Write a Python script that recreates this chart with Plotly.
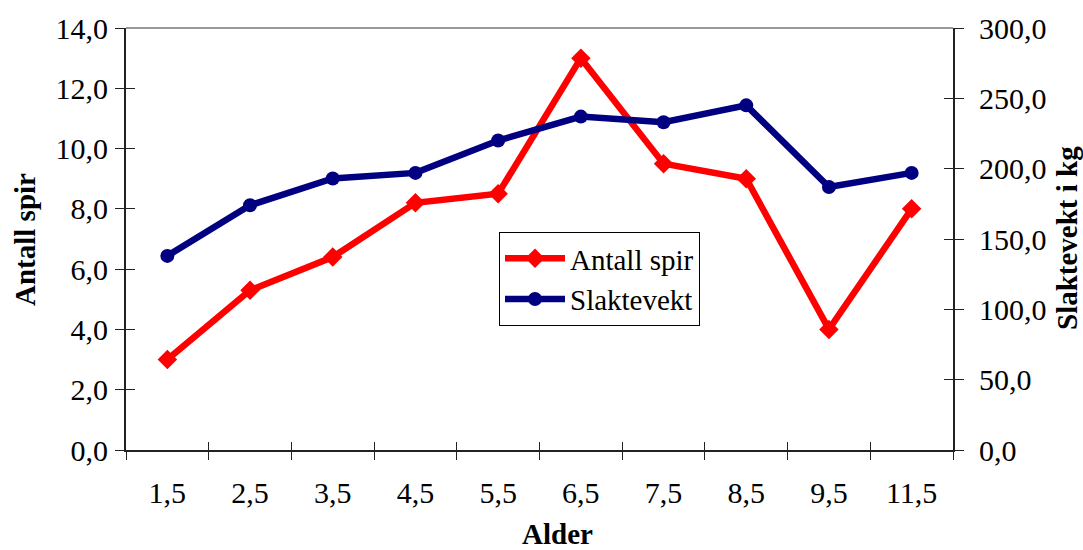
import plotly.graph_objects as go

categories = ["1,5", "2,5", "3,5", "4,5", "5,5", "6,5", "7,5", "8,5", "9,5", "11,5"]
antall_spir = [3.0, 5.3, 6.4, 8.2, 8.5, 13.0, 9.5, 9.0, 4.0, 8.0]
slaktevekt = [138, 174, 193, 197, 220, 237, 233, 245, 187, 197]

left_ticks = [0, 2, 4, 6, 8, 10, 12, 14]
right_ticks = [0, 50, 100, 150, 200, 250, 300]

FONT = "Liberation Serif"
L, R, T, B = 126, 130, 28, 100
W, H = 1083, 550
PW, PH = W - L - R, H - T - B


def px_x(px):
    return (px - L) / PW


def px_y(py):
    return (H - B - py) / PH


fig = go.Figure()

fig.add_trace(go.Scatter(
    x=categories, y=antall_spir, name="Antall spir", mode="lines+markers",
    line=dict(color="#FF0000", width=6.5),
    marker=dict(symbol="diamond", size=15, color="#FF0000"),
    xaxis="x", yaxis="y",
))
fig.add_trace(go.Scatter(
    x=categories, y=slaktevekt, name="Slaktevekt", mode="lines+markers",
    line=dict(color="#000080", width=6.5),
    marker=dict(symbol="circle", size=14, color="#000080"),
    xaxis="x", yaxis="y2",
))
# invisible helper traces so the inner-tick overlay axes exist
fig.add_trace(go.Scatter(x=categories, y=antall_spir, mode="markers",
                         marker=dict(opacity=0), showlegend=False, hoverinfo="skip",
                         xaxis="x3", yaxis="y3"))
fig.add_trace(go.Scatter(x=categories, y=slaktevekt, mode="markers",
                         marker=dict(opacity=0), showlegend=False, hoverinfo="skip",
                         xaxis="x3", yaxis="y4"))

tickfont = dict(family=FONT, size=30, color="black")
axcol = "#222222"

fig.update_layout(
    width=W, height=H,
    margin=dict(l=L, r=R, t=T, b=B),
    paper_bgcolor="white", plot_bgcolor="white",
    separators=", ",
    showlegend=True,
    legend=dict(
        x=px_x(499), y=px_y(232), xanchor="left", yanchor="top",
        bordercolor="black", borderwidth=1, bgcolor="white",
        font=dict(family=FONT, size=29, color="black"),
        tracegroupgap=0, itemwidth=60,
    ),
    xaxis=dict(
        type="category", categoryorder="array", categoryarray=categories,
        range=[-0.5, len(categories) - 0.5],
        showline=True, linecolor=axcol, linewidth=2,
        ticks="outside", tickson="boundaries", ticklen=8, tickwidth=1, tickcolor=axcol,
        tickfont=tickfont, ticklabelstandoff=15,
        showgrid=False, zeroline=False,
    ),
    xaxis3=dict(
        type="category", categoryorder="array", categoryarray=categories,
        range=[-0.5, len(categories) - 0.5], overlaying="x", anchor="y3",
        ticks="inside", tickson="boundaries", ticklen=8, tickwidth=1, tickcolor=axcol,
        showticklabels=False, showline=False, showgrid=False, zeroline=False,
    ),
    yaxis=dict(
        range=[0, 14], tickmode="array", tickvals=left_ticks, tickformat=".1f",
        showline=True, linecolor=axcol, linewidth=2,
        ticks="outside", ticklen=9, tickwidth=1, tickcolor=axcol,
        tickfont=tickfont, ticklabelstandoff=1,
        showgrid=False, zeroline=False,
    ),
    yaxis2=dict(
        range=[0, 300], tickmode="array", tickvals=right_ticks, tickformat=".1f",
        overlaying="y", side="right", anchor="x",
        showline=True, linecolor=axcol, linewidth=2,
        ticks="outside", ticklen=9, tickwidth=1, tickcolor=axcol,
        tickfont=tickfont, ticklabelstandoff=9,
        showgrid=False, zeroline=False,
    ),
    yaxis3=dict(
        range=[0, 14], tickmode="array", tickvals=left_ticks, overlaying="y", side="left",
        anchor="x3", ticks="inside", ticklen=9, tickwidth=1, tickcolor=axcol,
        showticklabels=False, showline=False, showgrid=False, zeroline=False,
    ),
    yaxis4=dict(
        range=[0, 300], tickmode="array", tickvals=right_ticks, overlaying="y", side="right",
        anchor="x3", ticks="inside", ticklen=9, tickwidth=1, tickcolor=axcol,
        showticklabels=False, showline=False, showgrid=False, zeroline=False,
    ),
    shapes=[dict(type="line", xref="paper", yref="paper", x0=0, x1=1, y0=1, y1=1,
                 line=dict(color="#999999", width=2))],
    annotations=[
        dict(text="<b>Alder</b>", xref="paper", yref="paper", x=px_x(557), y=px_y(534),
             xanchor="center", yanchor="middle", showarrow=False,
             font=dict(family=FONT, size=29, color="black")),
        dict(text="<b>Antall spir</b>", xref="paper", yref="paper", x=px_x(25), y=px_y(240),
             xanchor="center", yanchor="middle", showarrow=False, textangle=-90,
             font=dict(family=FONT, size=29, color="black")),
        dict(text="<b>Slaktevekt i kg</b>", xref="paper", yref="paper", x=px_x(1067), y=px_y(238),
             xanchor="center", yanchor="middle", showarrow=False, textangle=-90,
             font=dict(family=FONT, size=29, color="black")),
    ],
)

fig.write_html("out.html", config={"displayModeBar": False},
               post_script="document.body.style.margin='0';document.body.style.padding='0';")
